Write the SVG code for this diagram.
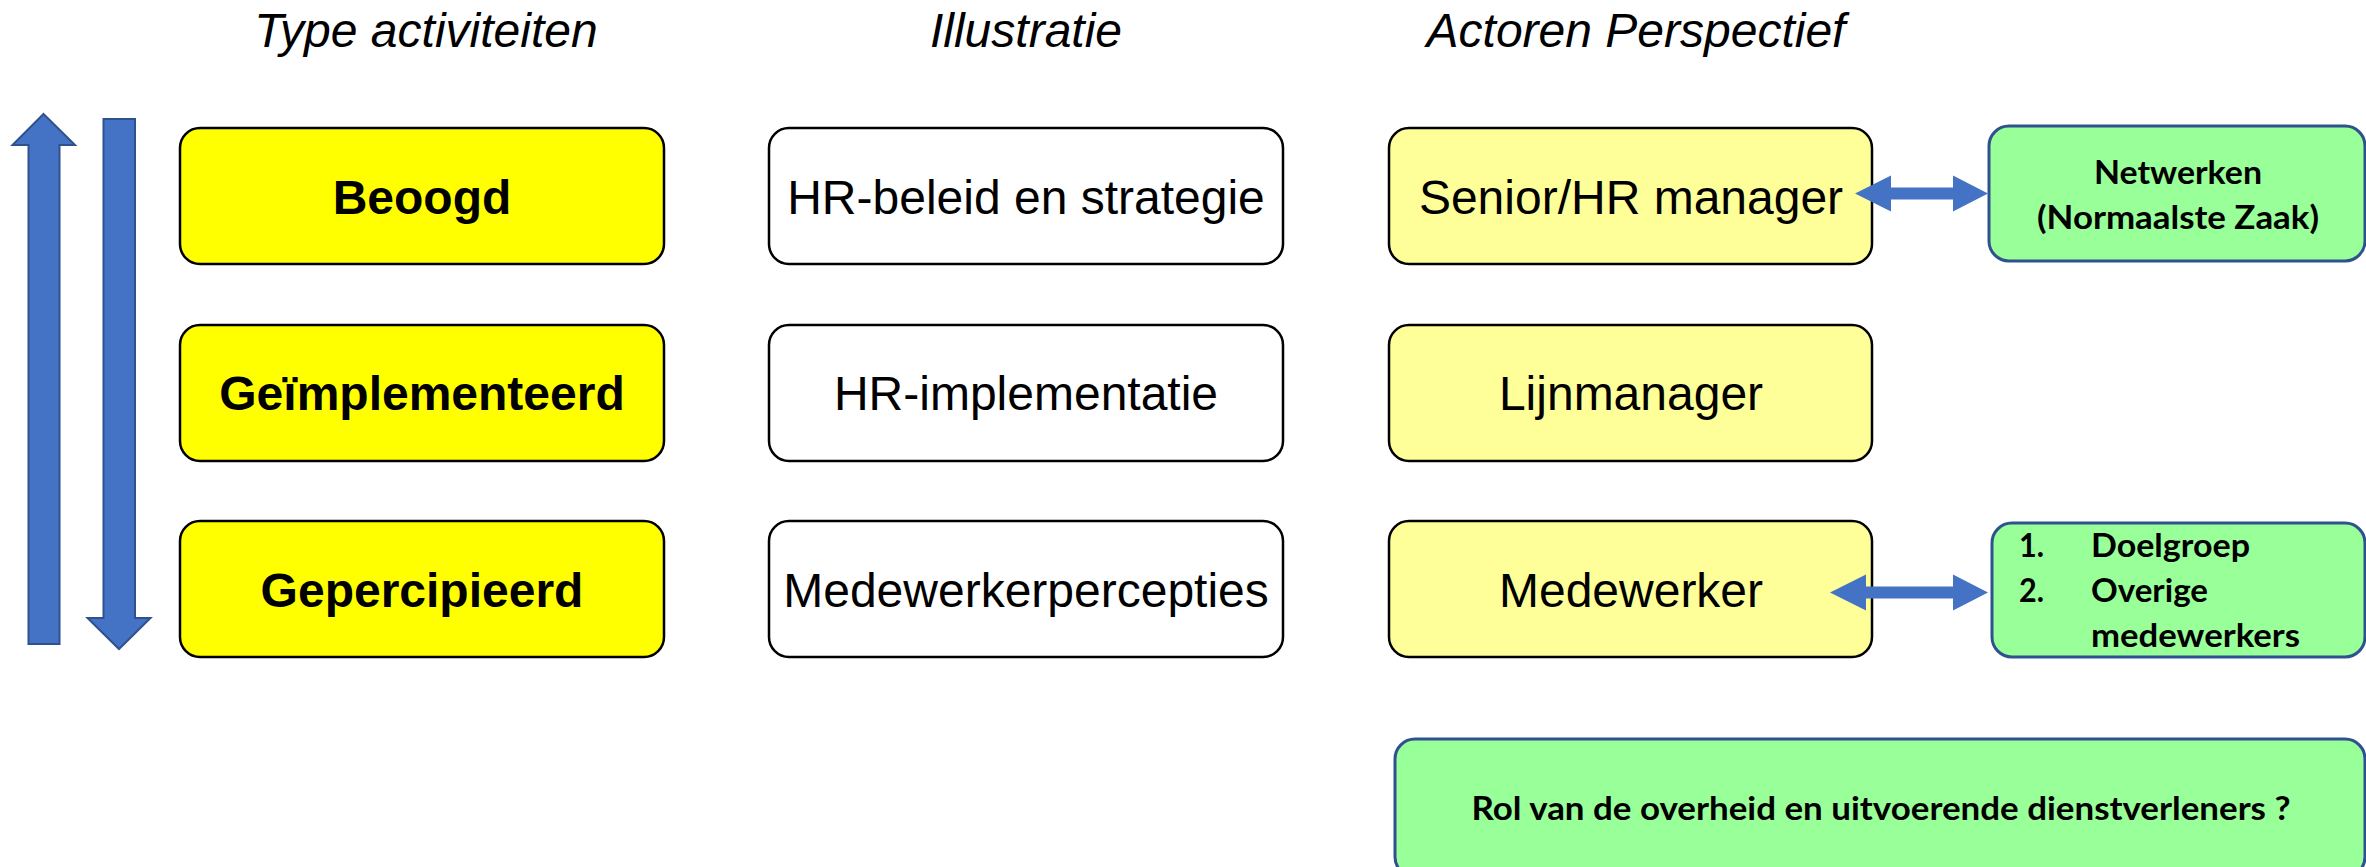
<svg xmlns="http://www.w3.org/2000/svg" width="2366" height="867" viewBox="0 0 2366 867">
  <style>
    .title { font-family: "Liberation Sans", Arial, sans-serif; font-size: 48px; font-style: italic; fill: #000; text-anchor: middle; }
    .lbl { font-family: "Liberation Sans", Arial, sans-serif; font-size: 48px; fill: #000; text-anchor: middle; }
    .bold { font-weight: bold; }
    .note { font-family: Lato, "Open Sans", "Liberation Sans", sans-serif; font-size: 33px; font-weight: bold; fill: #000; }
    .mid { text-anchor: middle; }
    .type { fill: #FFFF00; stroke: #000; stroke-width: 2.5; }
    .illu { fill: #FFFFFF; stroke: #000; stroke-width: 2.5; }
    .actor { fill: #FFFF99; stroke: #000; stroke-width: 2.5; }
    .extra { fill: #99FF99; stroke: #2F528F; stroke-width: 3; }
    .bigarrow { fill: #4472C4; stroke: #2F528F; stroke-width: 2; }
    .link { fill: #4472C4; stroke: none; }
  </style>

  <!-- column headings -->
  <g id="headings">
    <text class="title" x="426" y="47">Type activiteiten</text>
    <text class="title" x="1026" y="47">Illustratie</text>
    <text class="title" x="1636" y="47">Actoren Perspectief</text>
  </g>

  <!-- vertical direction arrows -->
  <g id="direction-arrows">
    <polygon class="bigarrow" points="43.5,114 75,145 59.5,145 59.5,644 28.5,644 28.5,145 12.5,145"/>
    <polygon class="bigarrow" points="103.5,119 135,119 135,618 150.5,618 119,649 87.5,618 103.5,618"/>
  </g>

  <!-- type of activities -->
  <g id="beoogd">
    <rect class="type" x="180" y="128" width="484" height="136" rx="20"/>
    <text class="lbl bold" x="422" y="214">Beoogd</text>
  </g>
  <g id="geimplementeerd">
    <rect class="type" x="180" y="325" width="484" height="136" rx="20"/>
    <text class="lbl bold" x="422" y="410">Geïmplementeerd</text>
  </g>
  <g id="gepercipieerd">
    <rect class="type" x="180" y="521" width="484" height="136" rx="20"/>
    <text class="lbl bold" x="422" y="607">Gepercipieerd</text>
  </g>

  <!-- illustration -->
  <g id="hr-beleid">
    <rect class="illu" x="769" y="128" width="514" height="136" rx="20"/>
    <text class="lbl" x="1026" y="214">HR-beleid en strategie</text>
  </g>
  <g id="hr-implementatie">
    <rect class="illu" x="769" y="325" width="514" height="136" rx="20"/>
    <text class="lbl" x="1026" y="410">HR-implementatie</text>
  </g>
  <g id="medewerkerpercepties">
    <rect class="illu" x="769" y="521" width="514" height="136" rx="20"/>
    <text class="lbl" x="1026" y="607">Medewerkerpercepties</text>
  </g>

  <!-- actors -->
  <g id="senior-hr-manager">
    <rect class="actor" x="1389" y="128" width="483" height="136" rx="20"/>
    <text class="lbl" x="1631" y="214">Senior/HR manager</text>
  </g>
  <g id="lijnmanager">
    <rect class="actor" x="1389" y="325" width="483" height="136" rx="20"/>
    <text class="lbl" x="1631" y="410">Lijnmanager</text>
  </g>
  <g id="medewerker">
    <rect class="actor" x="1389" y="521" width="483" height="136" rx="20"/>
    <text class="lbl" x="1631" y="607">Medewerker</text>
  </g>

  <!-- related parties -->
  <g id="netwerken">
    <rect class="extra" x="1989" y="126" width="376" height="135" rx="20"/>
    <text class="note mid" x="2178" y="184" textLength="168" lengthAdjust="spacingAndGlyphs">Netwerken</text>
    <text class="note mid" x="2178" y="229" textLength="282" lengthAdjust="spacingAndGlyphs">(Normaalste Zaak)</text>
  </g>
  <g id="doelgroep">
    <rect class="extra" x="1992" y="523" width="373" height="134" rx="20"/>
    <text class="note" x="2019" y="557" textLength="25" lengthAdjust="spacingAndGlyphs">1.</text>
    <text class="note" x="2091" y="557" textLength="159" lengthAdjust="spacingAndGlyphs">Doelgroep</text>
    <text class="note" x="2019" y="602" textLength="25" lengthAdjust="spacingAndGlyphs">2.</text>
    <text class="note" x="2091" y="602" textLength="117" lengthAdjust="spacingAndGlyphs">Overige</text>
    <text class="note" x="2091" y="647" textLength="209" lengthAdjust="spacingAndGlyphs">medewerkers</text>
  </g>
  <g id="overheid">
    <rect class="extra" x="1395" y="739" width="970" height="138" rx="20"/>
    <text class="note mid" x="1881" y="820" textLength="819" lengthAdjust="spacingAndGlyphs">Rol van de overheid en uitvoerende dienstverleners ?</text>
  </g>

  <!-- connectors -->
  <g id="connectors">
    <polygon class="link" points="1855,193.5 1891,175.5 1891,187.5 1953,187.5 1953,175.5 1988,193.5 1953,211.5 1953,199.5 1891,199.5 1891,211.5"/>
    <polygon class="link" points="1830,592.5 1866,574.5 1866,586.5 1953,586.5 1953,574.5 1988,592.5 1953,610.5 1953,598.5 1866,598.5 1866,610.5"/>
  </g>
</svg>
